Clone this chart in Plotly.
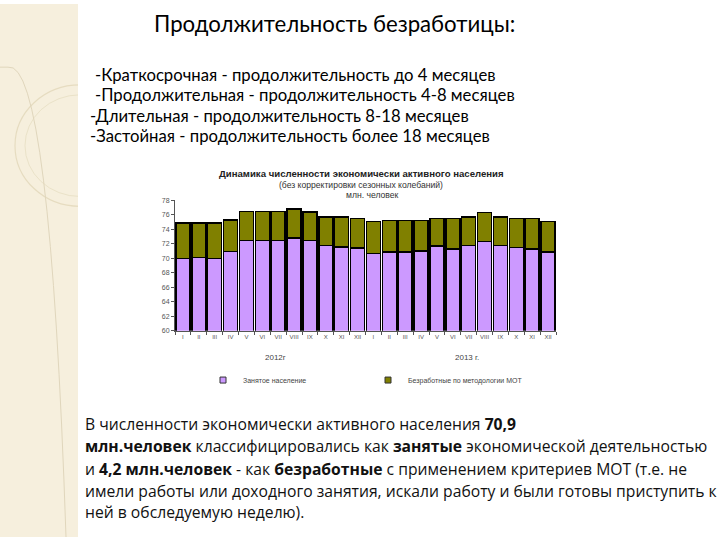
import plotly.graph_objects as go

W, H = 720, 540

months = ["I", "II", "III", "IV", "V", "VI", "VII", "VIII", "IX", "X", "XI", "XII"]
years = ["2012", "2013"]
categories = [f"{m} {y}" for y in years for m in months]
tick_labels = months + months

employed = [70.0, 70.1, 70.0, 70.95, 72.45, 72.45, 72.45, 72.8, 72.45, 71.75, 71.55, 71.45,
            70.7, 70.9, 70.9, 71.0, 71.7, 71.3, 71.8, 72.35, 71.75, 71.5, 71.3, 70.9]
unemployed = [4.9, 4.8, 4.9, 4.35, 4.05, 4.05, 4.05, 4.0, 3.95, 3.95, 4.15, 4.05,
              4.4, 4.35, 4.35, 4.25, 3.8, 4.2, 3.9, 4.0, 3.95, 4.0, 4.2, 4.2]

series_names = ["Занятое население", "Безработные по методологии МОТ"]
series_colors = ["#CC99FF", "#808000"]
y_ticks = [60, 62, 64, 66, 68, 70, 72, 74, 76, 78]

def px(x):
    return x / W

def py(y):
    return 1 - y / H

fig = go.Figure()
for vals, name, col in zip([employed, unemployed], series_names, series_colors):
    fig.add_trace(go.Bar(x=categories, y=vals, name=name, showlegend=False,
                         marker=dict(color=col, line=dict(color="#000000", width=1.5))))
# legend entries with small square markers
for name, col in zip(series_names, series_colors):
    fig.add_trace(go.Scatter(x=[None], y=[None], mode="markers", name=name,
                             marker=dict(symbol="square", size=6, color=col,
                                         line=dict(color="#333333", width=1))))

chart_font = "Liberation Sans"

fig.update_layout(
    width=W, height=H,
    margin=dict(l=0, r=0, t=0, b=0),
    paper_bgcolor="#FFFFFF", plot_bgcolor="#FFFFFF",
    barmode="stack", bargap=0.12,
    showlegend=True,
    legend=dict(orientation="h", x=px(203), y=py(381), xanchor="left", yanchor="middle",
                font=dict(family=chart_font, size=7, color="#444444"),
                entrywidth=120, entrywidthmode="pixels", bgcolor="rgba(0,0,0,0)",
                traceorder="normal", itemwidth=30, tracegroupgap=0),
    xaxis=dict(domain=[px(175), px(556)], type="category",
               tickmode="array", tickvals=categories, ticktext=tick_labels,
               tickson="boundaries", ticks="outside", ticklen=3, tickcolor="#555555",
               showline=True, linecolor="#555555", linewidth=1, tickangle=0,
               tickfont=dict(family=chart_font, size=6, color="#555555"),
               showgrid=False, zeroline=False),
    yaxis=dict(domain=[py(331), py(199)], range=[60, 78],
               tickmode="array", tickvals=y_ticks,
               ticks="outside", ticklen=3, tickcolor="#555555",
               showline=True, linecolor="#555555", linewidth=1,
               tickfont=dict(family=chart_font, size=7, color="#555555"),
               showgrid=False, zeroline=False),
)

shapes = [
    dict(type="rect", xref="paper", yref="paper", x0=0, x1=px(78), y0=0, y1=1,
         fillcolor="#F6EFDD", line=dict(width=0), layer="below"),
    dict(type="circle", xref="paper", yref="paper", x0=px(15), x1=px(145), y0=py(205), y1=py(82),
         line=dict(color="#E6DCC0", width=1.2), layer="below"),
    dict(type="circle", xref="paper", yref="paper", x0=px(25), x1=px(135), y0=py(195), y1=py(92),
         line=dict(color="#EAE2C8", width=1), layer="below"),
    dict(type="path", xref="paper", yref="paper",
         path=f"M 0,{py(64)} L {px(8)},{py(64)} Q {px(50)},{py(55)} {px(66)},0",
         line=dict(color="#E0D6BC", width=1), layer="below"),
    dict(type="rect", xref="paper", yref="paper", x0=px(78), x1=1, y0=0, y1=1,
         fillcolor="#FFFFFF", line=dict(width=0), layer="below"),
]
fig.update_layout(shapes=shapes)

ann = []
def add_text(text, x, y, size, family, color="#000000", xanchor="left"):
    ann.append(dict(text=text, x=px(x), y=py(y), xref="paper", yref="paper",
                    xanchor=xanchor, yanchor="middle", showarrow=False,
                    font=dict(family=family, size=size, color=color)))

slide_font = "Lato"
add_text("Продолжительность безработицы:", 152, 20, 22.2, slide_font)
add_text("-Краткосрочная - продолжительность до 4 месяцев", 93, 72, 16.7, slide_font)
add_text("-Продолжительная - продолжительность 4-8 месяцев", 93, 92, 16.7, slide_font)
add_text("-Длительная - продолжительность 8-18 месяцев", 88, 113, 16.7, slide_font)
add_text("-Застойная - продолжительность более 18 месяцев", 88, 134, 16.7, slide_font)

add_text("<b>Динамика численности экономически активного населения</b>", 361, 172, 9.6, chart_font, "#222222", "center")
add_text("(без корректировки сезонных колебаний)", 361, 183, 8.6, chart_font, "#333333", "center")
add_text("млн. человек", 372, 194, 8.6, chart_font, "#333333", "center")
add_text("2012г", 275, 358, 8, chart_font, "#444444", "center")
add_text("2013 г.", 467, 358, 8, chart_font, "#444444", "center")

para_font = "Open Sans"
para = [
    ("В численности экономически активного населения <b>70,9</b>", 426),
    ("<b>млн.человек</b> классифицировались как <b>занятые</b> экономической деятельностью", 448),
    ("и <b>4,2 млн.человек</b> - как <b>безработные</b> с применением критериев МОТ (т.е. не", 471),
    ("имели работы или доходного занятия, искали работу и были готовы приступить к", 493),
    ("ней в обследуемую неделю).", 515),
]
for t, y in para:
    add_text(t, 83, y, 15.7, para_font, "#111111")

fig.update_layout(annotations=ann)

fig.write_html("out.html", config={"displayModeBar": False},
               post_script="document.body.style.margin='0';document.body.style.overflow='hidden';")
